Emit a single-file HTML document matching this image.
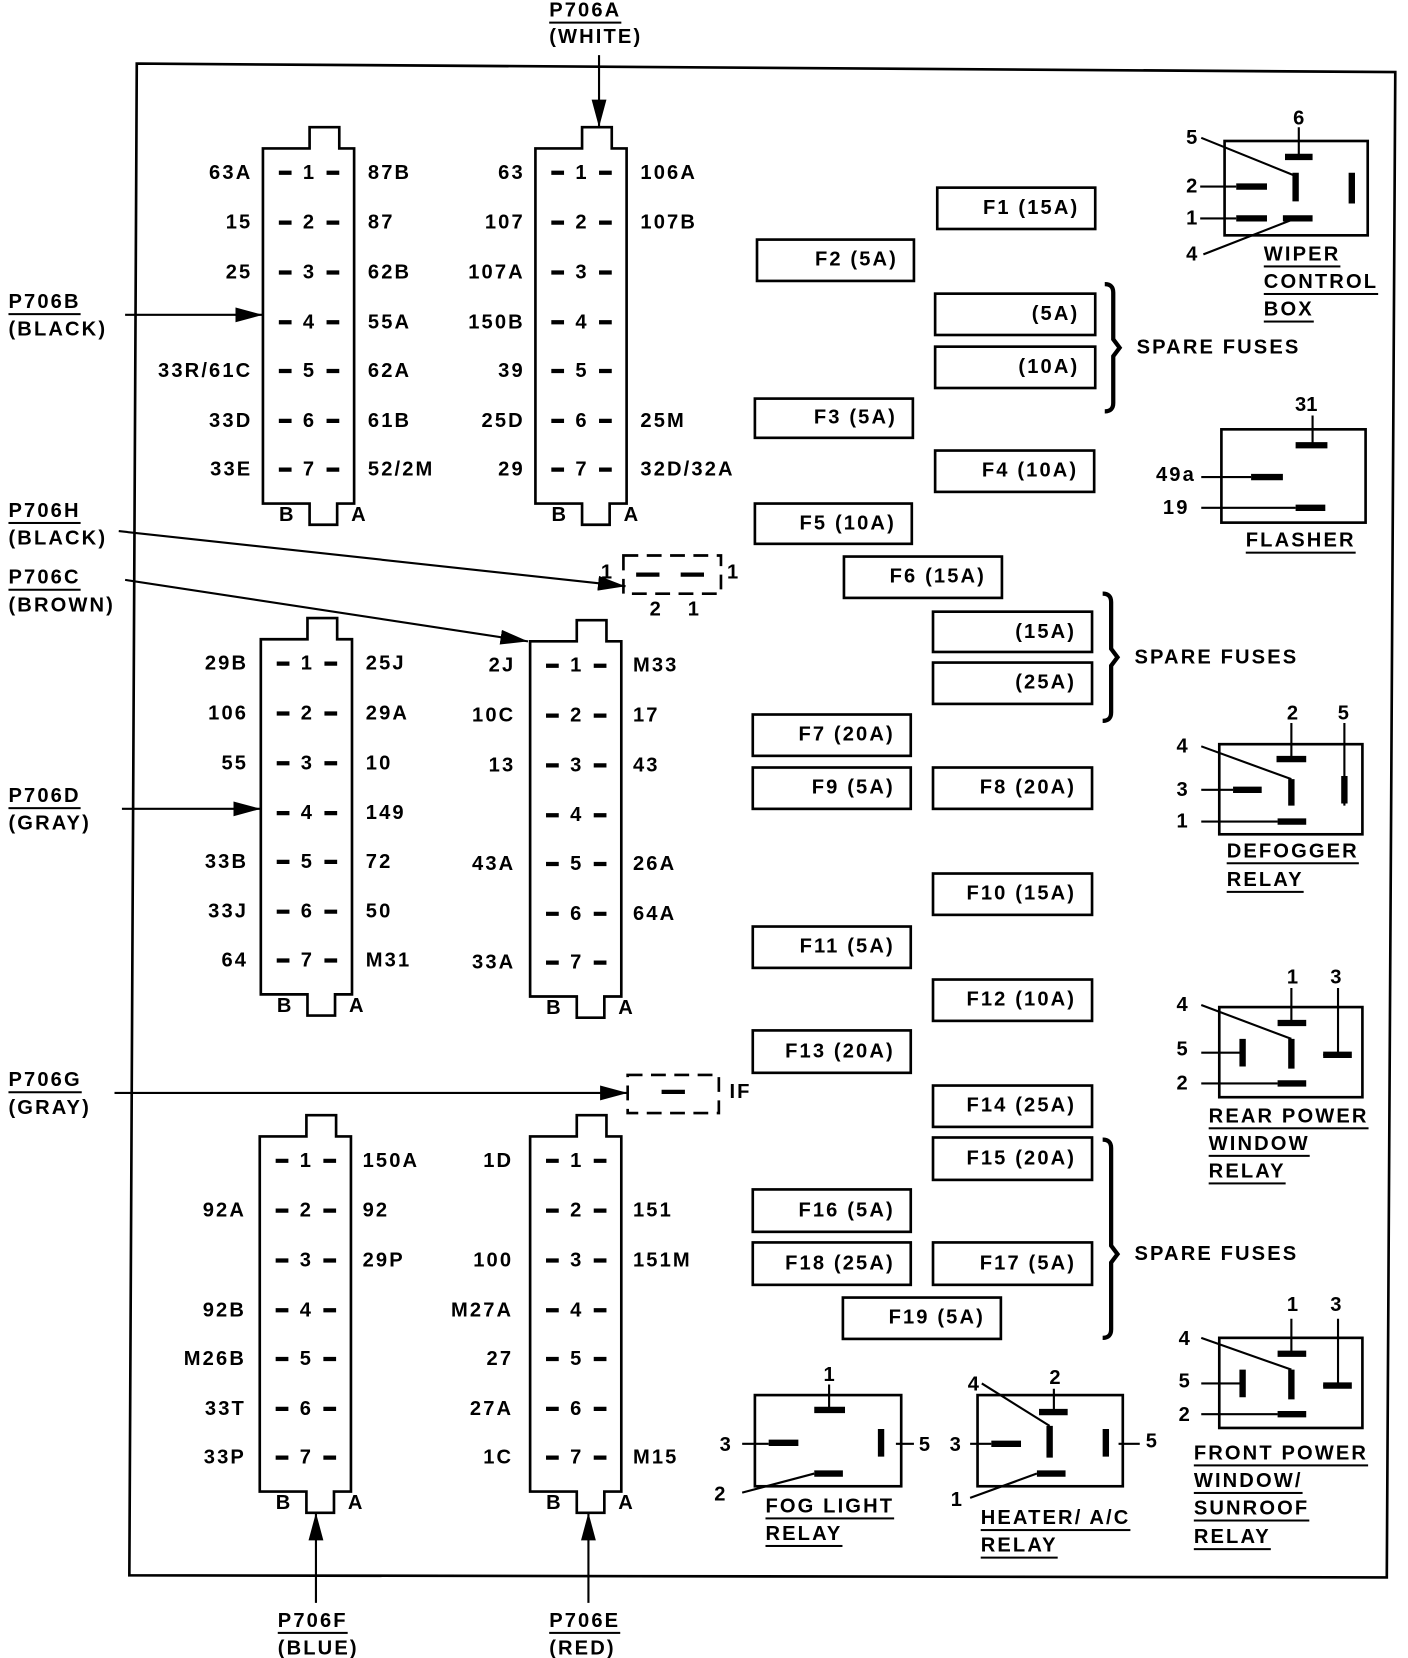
<!DOCTYPE html>
<html><head><meta charset="utf-8"><style>
html,body{margin:0;padding:0;background:#fff}
svg{display:block}
text{font-family:"Liberation Sans",Arial,sans-serif;font-weight:bold;font-size:19px;fill:#000;dominant-baseline:central;letter-spacing:2px}
.r{text-anchor:end}.m{text-anchor:middle;letter-spacing:0}
.u{text-decoration:underline}
</style></head><body>
<svg width="1408" height="1658" viewBox="0 0 1328 1564" preserveAspectRatio="none" xmlns="http://www.w3.org/2000/svg">
<defs>
<g id="cn" fill="none" stroke="#000">
<path d="M0,20 H44 V0 H72 V20 H86 V355 H70 V375 H44 V355 H0 Z" stroke-width="2.5"/>
<path d="M15,43h12M60,43h12M15,90h12M60,90h12M15,137h12M60,137h12M15,184h12M60,184h12M15,230h12M60,230h12M15,277h12M60,277h12M15,323h12M60,323h12" stroke-width="4"/>
</g>
<g id="nums">
<text x="43" y="43" class="m">1</text><text x="43" y="90" class="m">2</text><text x="43" y="137" class="m">3</text><text x="43" y="184" class="m">4</text><text x="43" y="230" class="m">5</text><text x="43" y="277" class="m">6</text><text x="43" y="323" class="m">7</text>
<text x="22" y="366" class="m">B</text><text x="90" y="366" class="m">A</text>
</g>
<marker id="ar" markerWidth="26" markerHeight="14" refX="26" refY="7" orient="auto" markerUnits="userSpaceOnUse"><path d="M0,0 L26,7 L0,14 Z"/></marker>
</defs>
<polygon points="129,60 1316,68 1308,1488 122,1486" fill="none" stroke="#000" stroke-width="2.5"/>

<g transform="translate(248,120)"><use href="#cn"/><use href="#nums"/>
<text x="-10" y="43" class="r">63A</text><text x="-10" y="90" class="r">15</text><text x="-10" y="137" class="r">25</text><text x="-10" y="230" class="r">33R/61C</text><text x="-10" y="277" class="r">33D</text><text x="-10" y="323" class="r">33E</text>
<text x="99" y="43">87B</text><text x="99" y="90">87</text><text x="99" y="137">62B</text><text x="99" y="184">55A</text><text x="99" y="230">62A</text><text x="99" y="277">61B</text><text x="99" y="323">52/2M</text>
</g>
<g transform="translate(505,120)"><use href="#cn"/><use href="#nums"/>
<text x="-10" y="43" class="r">63</text><text x="-10" y="90" class="r">107</text><text x="-10" y="137" class="r">107A</text><text x="-10" y="184" class="r">150B</text><text x="-10" y="230" class="r">39</text><text x="-10" y="277" class="r">25D</text><text x="-10" y="323" class="r">29</text>
<text x="99" y="43">106A</text><text x="99" y="90">107B</text><text x="99" y="277">25M</text><text x="99" y="323">32D/32A</text>
</g>
<g transform="translate(246,583)"><use href="#cn"/><use href="#nums"/>
<text x="-12" y="43" class="r">29B</text><text x="-12" y="90" class="r">106</text><text x="-12" y="137" class="r">55</text><text x="-12" y="230" class="r">33B</text><text x="-12" y="277" class="r">33J</text><text x="-12" y="323" class="r">64</text>
<text x="99" y="43">25J</text><text x="99" y="90">29A</text><text x="99" y="137">10</text><text x="99" y="184">149</text><text x="99" y="230">72</text><text x="99" y="277">50</text><text x="99" y="323">M31</text>
</g>
<g transform="translate(500,585)"><use href="#cn"/><use href="#nums"/>
<text x="-14" y="43" class="r">2J</text><text x="-14" y="90" class="r">10C</text><text x="-14" y="137" class="r">13</text><text x="-14" y="230" class="r">43A</text><text x="-14" y="323" class="r">33A</text>
<text x="97" y="43">M33</text><text x="97" y="90">17</text><text x="97" y="137">43</text><text x="97" y="230">26A</text><text x="97" y="277">64A</text>
</g>
<g transform="translate(245,1052)"><use href="#cn"/><use href="#nums"/>
<text x="-13" y="90" class="r">92A</text><text x="-13" y="184" class="r">92B</text><text x="-13" y="230" class="r">M26B</text><text x="-13" y="277" class="r">33T</text><text x="-13" y="323" class="r">33P</text>
<text x="97" y="43">150A</text><text x="97" y="90">92</text><text x="97" y="137">29P</text>
</g>
<g transform="translate(500,1052)"><use href="#cn"/><use href="#nums"/>
<text x="-16" y="43" class="r">1D</text><text x="-16" y="137" class="r">100</text><text x="-16" y="184" class="r">M27A</text><text x="-16" y="230" class="r">27</text><text x="-16" y="277" class="r">27A</text><text x="-16" y="323" class="r">1C</text>
<text x="97" y="90">151</text><text x="97" y="137">151M</text><text x="97" y="323">M15</text>
</g>

<rect x="588" y="524" width="92" height="36" fill="none" stroke="#000" stroke-width="2.5" stroke-dasharray="14,8"/>
<path d="M600,542h22M642,542h22" stroke="#000" stroke-width="4"/>
<text x="572" y="540" class="m">1</text><text x="691" y="540" class="m">1</text><text x="618" y="575" class="m">2</text><text x="654" y="575" class="m">1</text>
<rect x="592" y="1014" width="86" height="36" fill="none" stroke="#000" stroke-width="2.5" stroke-dasharray="14,8"/>
<path d="M624,1030h22" stroke="#000" stroke-width="4"/>
<text x="688" y="1030">IF</text>

<g stroke="#000" stroke-width="2" fill="#000">
<line x1="565" y1="52" x2="565" y2="120" marker-end="url(#ar)"/>
<line x1="118" y1="297" x2="248" y2="297" marker-end="url(#ar)"/>
<line x1="112" y1="501" x2="590" y2="553" marker-end="url(#ar)"/>
<line x1="118" y1="547" x2="498" y2="605" marker-end="url(#ar)"/>
<line x1="115" y1="763" x2="246" y2="763" marker-end="url(#ar)"/>
<line x1="108" y1="1031" x2="592" y2="1031" marker-end="url(#ar)"/>
<line x1="298" y1="1512" x2="298" y2="1427" marker-end="url(#ar)"/>
<line x1="555" y1="1512" x2="555" y2="1427" marker-end="url(#ar)"/>
</g>
<text x="518" y="10" class="u">P706A</text><text x="518" y="35">(WHITE)</text>
<text x="8" y="285" class="u">P706B</text><text x="8" y="311">(BLACK)</text>
<text x="8" y="482" class="u">P706H</text><text x="8" y="508">(BLACK)</text>
<text x="8" y="545" class="u">P706C</text><text x="8" y="571">(BROWN)</text>
<text x="8" y="751" class="u">P706D</text><text x="8" y="777">(GRAY)</text>
<text x="8" y="1019" class="u">P706G</text><text x="8" y="1045">(GRAY)</text>
<text x="262" y="1529" class="u">P706F</text><text x="262" y="1555">(BLUE)</text>
<text x="518" y="1529" class="u">P706E</text><text x="518" y="1555">(RED)</text>

<g fill="none" stroke="#000" stroke-width="2.5">
<rect x="884" y="177" width="149" height="39"/><rect x="714" y="226" width="148" height="39"/>
<rect x="882" y="277" width="151" height="39"/><rect x="882" y="327" width="151" height="39"/>
<rect x="712" y="376" width="149" height="37"/><rect x="882" y="425" width="150" height="39"/>
<rect x="712" y="475" width="148" height="38"/><rect x="796" y="525" width="149" height="39"/>
<rect x="880" y="577" width="150" height="38"/><rect x="880" y="625" width="150" height="39"/>
<rect x="710" y="674" width="149" height="39"/><rect x="710" y="724" width="149" height="39"/>
<rect x="880" y="724" width="150" height="39"/><rect x="880" y="824" width="150" height="39"/>
<rect x="710" y="874" width="149" height="39"/><rect x="880" y="924" width="150" height="39"/>
<rect x="710" y="972" width="149" height="40"/><rect x="880" y="1024" width="150" height="39"/>
<rect x="880" y="1073" width="150" height="40"/><rect x="710" y="1122" width="149" height="40"/>
<rect x="710" y="1172" width="149" height="40"/><rect x="880" y="1172" width="150" height="40"/>
<rect x="795" y="1224" width="149" height="39"/>
</g>
<text x="1018" y="196" class="r">F1 (15A)</text><text x="847" y="245" class="r">F2 (5A)</text>
<text x="1018" y="296" class="r">(5A)</text><text x="1018" y="346" class="r">(10A)</text>
<text x="846" y="394" class="r">F3 (5A)</text><text x="1017" y="444" class="r">F4 (10A)</text>
<text x="845" y="494" class="r">F5 (10A)</text><text x="930" y="544" class="r">F6 (15A)</text>
<text x="1015" y="596" class="r">(15A)</text><text x="1015" y="644" class="r">(25A)</text>
<text x="844" y="693" class="r">F7 (20A)</text><text x="844" y="743" class="r">F9 (5A)</text>
<text x="1015" y="743" class="r">F8 (20A)</text><text x="1015" y="843" class="r">F10 (15A)</text>
<text x="844" y="893" class="r">F11 (5A)</text><text x="1015" y="943" class="r">F12 (10A)</text>
<text x="844" y="992" class="r">F13 (20A)</text><text x="1015" y="1043" class="r">F14 (25A)</text>
<text x="1015" y="1093" class="r">F15 (20A)</text><text x="844" y="1142" class="r">F16 (5A)</text>
<text x="844" y="1192" class="r">F18 (25A)</text><text x="1015" y="1192" class="r">F17 (5A)</text>
<text x="929" y="1243" class="r">F19 (5A)</text>

<g fill="none" stroke="#000" stroke-width="4">
<path d="M1042,268 Q1050,268 1050,276 V320 L1056,328 L1050,336 V380 Q1050,388 1042,388"/>
<path d="M1040,560 Q1048,560 1048,568 V612 L1054,620 L1048,628 V672 Q1048,680 1040,680"/>
<path d="M1040,1075 Q1048,1075 1048,1083 V1175 L1054,1183 L1048,1191 V1254 Q1048,1262 1040,1262"/>
</g>
<text x="1072" y="328">SPARE FUSES</text><text x="1070" y="620">SPARE FUSES</text><text x="1070" y="1183">SPARE FUSES</text>

<g fill="none" stroke="#000" stroke-width="2.5">
<rect x="1155" y="133" width="135" height="89"/>
<rect x="1152" y="405" width="136" height="88"/>
<rect x="1150" y="702" width="135" height="85"/>
<rect x="1150" y="950" width="135" height="85"/>
<rect x="1150" y="1262" width="135" height="85"/>
<rect x="712" y="1316" width="138" height="86"/>
<rect x="922" y="1316" width="137" height="86"/>
</g>
<g stroke="#000" stroke-width="2" fill="none">
<path d="M1225,120V148M1132,176H1166M1132,206H1166M1135,240L1222,206M1133,130L1222,166"/>
<path d="M1238,392V420M1133,450H1180M1133,479H1222"/>
<path d="M1218,682V716M1268,682V760M1133,704L1218,735M1133,745H1163M1133,775H1205"/>
<path d="M1218,932V965M1262,932V995H1248M1133,948L1218,980M1133,993H1172M1133,1022H1205"/>
<path d="M1218,1244V1277M1262,1244V1307H1248M1133,1262L1218,1292M1133,1305H1172M1133,1334H1205"/>
<path d="M782,1306V1330M700,1362H725M845,1362H862M700,1408L768,1390"/>
<path d="M994,1310V1332M915,1362H935M1055,1362H1075M926,1305L990,1345M915,1413L978,1390"/>
</g>
<g stroke="#000" stroke-width="6" fill="none">
<path d="M1212,148H1238M1222,163V190M1275,163V192M1166,176H1195M1166,206H1195M1210,206H1238"/>
<path d="M1222,420H1252M1180,450H1210M1222,479H1250"/>
<path d="M1204,716H1232M1268,732V758M1218,735V760M1163,745H1190M1205,775H1232"/>
<path d="M1205,965H1232M1248,995H1275M1218,980V1008M1172,980V1006M1205,1022H1232"/>
<path d="M1205,1277H1232M1248,1307H1275M1218,1292V1320M1172,1292V1318M1205,1334H1232"/>
<path d="M768,1330H797M725,1361H753M831,1348V1374M768,1390H795"/>
<path d="M980,1332H1007M935,1362H963M990,1345V1375M1043,1348V1374M978,1390H1005"/>
</g>
<text x="1225" y="112" class="m">6</text><text x="1124" y="130" class="m">5</text><text x="1124" y="176" class="m">2</text><text x="1124" y="206" class="m">1</text><text x="1124" y="240" class="m">4</text>
<text x="1192" y="240" class="u">WIPER</text><text x="1192" y="266" class="u">CONTROL</text><text x="1192" y="292" class="u">BOX</text>
<text x="1232" y="382" class="m">31</text><text x="1128" y="448" class="r">49a</text><text x="1122" y="479" class="r">19</text>
<text x="1175" y="510" class="u">FLASHER</text>
<text x="1219" y="673" class="m">2</text><text x="1267" y="673" class="m">5</text><text x="1115" y="704" class="m">4</text><text x="1115" y="745" class="m">3</text><text x="1115" y="775" class="m">1</text>
<text x="1157" y="803" class="u">DEFOGGER</text><text x="1157" y="830" class="u">RELAY</text>
<text x="1219" y="922" class="m">1</text><text x="1260" y="922" class="m">3</text><text x="1115" y="948" class="m">4</text><text x="1115" y="990" class="m">5</text><text x="1115" y="1022" class="m">2</text>
<text x="1140" y="1053" class="u">REAR POWER</text><text x="1140" y="1079" class="u">WINDOW</text><text x="1140" y="1105" class="u">RELAY</text>
<text x="1219" y="1231" class="m">1</text><text x="1260" y="1231" class="m">3</text><text x="1117" y="1263" class="m">4</text><text x="1117" y="1303" class="m">5</text><text x="1117" y="1335" class="m">2</text>
<text x="1126" y="1371" class="u">FRONT POWER</text><text x="1126" y="1397" class="u">WINDOW/</text><text x="1126" y="1423" class="u">SUNROOF</text><text x="1126" y="1450" class="u">RELAY</text>
<text x="782" y="1297" class="m">1</text><text x="684" y="1363" class="m">3</text><text x="872" y="1363" class="m">5</text><text x="679" y="1410" class="m">2</text>
<text x="722" y="1421" class="u">FOG LIGHT</text><text x="722" y="1447" class="u">RELAY</text>
<text x="995" y="1300" class="m">2</text><text x="918" y="1306" class="m">4</text><text x="901" y="1363" class="m">3</text><text x="1086" y="1360" class="m">5</text><text x="902" y="1415" class="m">1</text>
<text x="925" y="1432" class="u">HEATER/ A/C</text><text x="925" y="1458" class="u">RELAY</text>
</svg>
</body></html>
